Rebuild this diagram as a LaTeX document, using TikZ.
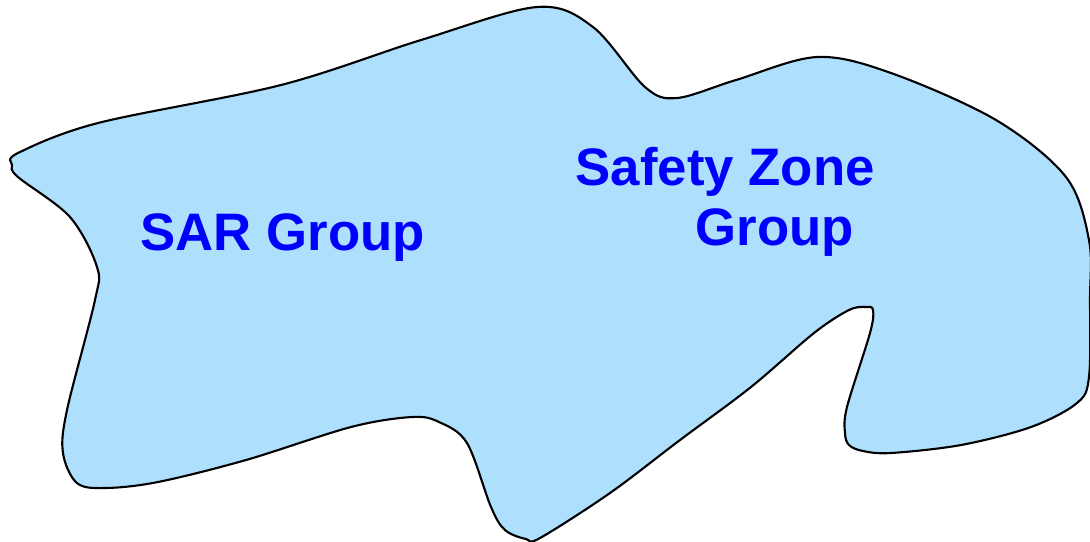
\documentclass[tikz,border=0pt]{standalone}
\usepackage{fontspec}
\setmainfont{Liberation Sans}
\usepackage{xcolor}
\usetikzlibrary{positioning}
\definecolor{zonefill}{RGB}{174,223,252}
\definecolor{labelblue}{RGB}{0,0,255}
\tikzset{
    grouplabel/.style={text=labelblue, font=\bfseries\fontsize{15}{17}\selectfont, inner sep=0pt, anchor=base west, align=left}
}

\begin{document}
\begin{tikzpicture}[x=0.01cm, y=-0.01cm]
    \useasboundingbox (0,0) rectangle (1090,541);

    % --- outline of the group area ---
    \draw[fill=zonefill, line width=0.6pt] plot[smooth cycle, tension=0.55] coordinates {
        (12,165) (18,153) (98,123) (281,85) (421,40) (537,7) (593,27) (645,87)
        (677,98) (736,80) (817,57) (891,73) (996,120) (1066,177) (1089,240)
        (1090,300) (1089,377) (1077,403) (1031,427) (961,445) (891,453)
        (863,451) (849,445) (845,433) (847,407) (870,333) (873,310) (866,307)
        (849,310) (814,333) (751,387) (680,440) (610,493) (540,538) (526,539)
        (505,530) (491,507) (467,443) (439,422) (412,417) (351,427) (246,460)
        (158,482) (105,488) (77,483) (63,453) (67,410) (95,300) (97,267)
        (70,217) (18,177)
    };

    % --- labels ---
    \node[grouplabel] (sar) at (140,250) {SAR Group};
    \node[grouplabel] (szone) at (575,245) {Safety Zone\\\hspace*{1.2cm}Group};
\end{tikzpicture}
\end{document}
